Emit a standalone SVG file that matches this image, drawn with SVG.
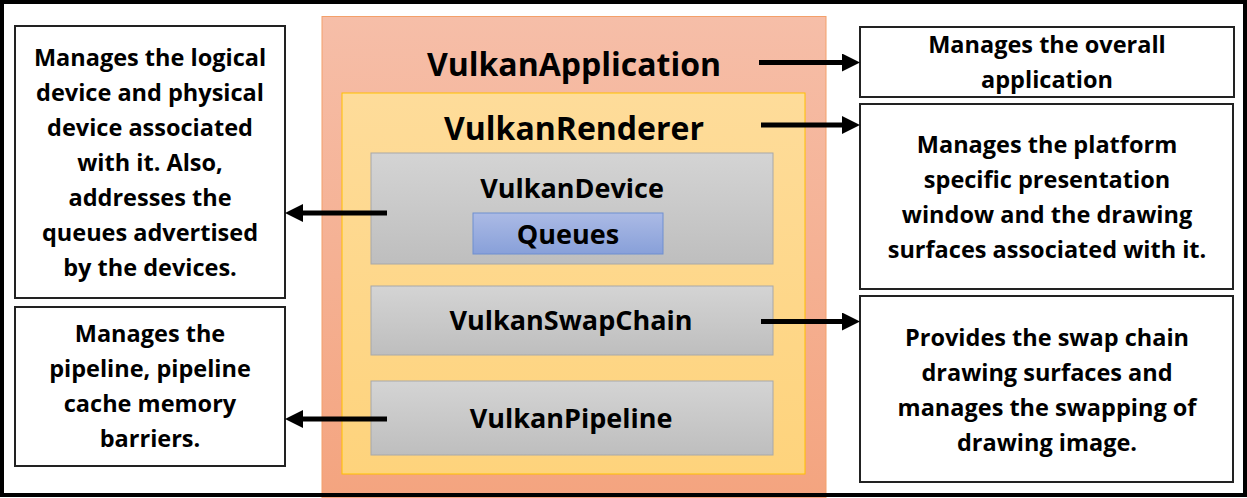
<svg xmlns="http://www.w3.org/2000/svg" width="1247" height="498" viewBox="0 0 1247 498">
<defs>
<linearGradient id="gOrange" x1="0" y1="0" x2="0" y2="1"><stop offset="0" stop-color="#f6bea8"/><stop offset="1" stop-color="#f4a47f"/></linearGradient>
<linearGradient id="gYellow" x1="0" y1="0" x2="0" y2="1"><stop offset="0" stop-color="#fedc9a"/><stop offset="1" stop-color="#fed37c"/></linearGradient>
<linearGradient id="gGray" x1="0" y1="0" x2="0" y2="1"><stop offset="0" stop-color="#d4d4d4"/><stop offset="1" stop-color="#bebebe"/></linearGradient>
<linearGradient id="gBlue" x1="0" y1="0" x2="0" y2="1"><stop offset="0" stop-color="#abbae5"/><stop offset="1" stop-color="#88a0d9"/></linearGradient>
<marker id="ah" markerUnits="userSpaceOnUse" markerWidth="18" markerHeight="18" refX="4" refY="9" orient="auto"><path d="M0,0 L18,9 L0,18 z" fill="#000"/></marker>
<style>
text{font-family:"Open Sans","Liberation Sans",sans-serif;font-weight:bold;fill:#000;text-anchor:middle}
.desc{font-size:23.5px}
.big{font-size:32px}
.mid{font-size:27px}
.box{fill:#fff;stroke:#222;stroke-width:2}
.gray{fill:url(#gGray);stroke:#a8a8a8;stroke-width:1}
.conn{stroke:#000;stroke-width:5;fill:none;marker-end:url(#ah)}
</style>
</defs>
<rect x="0" y="0" width="1247" height="498" fill="#fff"/>

<g id="vulkanApplication">
<rect x="322" y="16.5" width="504" height="482" fill="url(#gOrange)" stroke="#f3a06a" stroke-width="1"/>
<text class="big" x="574" y="76">VulkanApplication</text>
</g>
<g id="vulkanRenderer">
<rect x="342" y="93" width="463" height="381" fill="url(#gYellow)" stroke="#ffc000" stroke-width="1"/>
<text class="big" x="574" y="140">VulkanRenderer</text>
</g>
<g id="vulkanDevice">
<rect class="gray" x="371" y="153" width="402" height="111"/>
<text class="mid" x="572" y="198">VulkanDevice</text>
</g>
<g id="queues">
<rect x="473" y="213" width="190" height="41" fill="url(#gBlue)" stroke="#6f8fd0" stroke-width="1"/>
<text class="mid" x="568" y="244">Queues</text>
</g>
<g id="vulkanSwapChain">
<rect class="gray" x="371" y="286" width="402" height="69"/>
<text class="mid" x="571" y="330">VulkanSwapChain</text>
</g>
<g id="vulkanPipeline">
<rect class="gray" x="371" y="381" width="402" height="74"/>
<text class="mid" x="571" y="428">VulkanPipeline</text>
</g>

<g id="descDevice">
<rect class="box" x="15" y="26" width="270" height="272"/>
<text class="desc" x="150" y="66">Manages the logical</text>
<text class="desc" x="150" y="101">device and physical</text>
<text class="desc" x="150" y="136">device associated</text>
<text class="desc" x="150" y="171">with it. Also,</text>
<text class="desc" x="150" y="206">addresses the</text>
<text class="desc" x="150" y="241">queues advertised</text>
<text class="desc" x="150" y="276">by the devices.</text>
</g>
<g id="descPipeline">
<rect class="box" x="15" y="307" width="270" height="159"/>
<text class="desc" x="150" y="342">Manages the</text>
<text class="desc" x="150" y="377">pipeline, pipeline</text>
<text class="desc" x="150" y="412">cache memory</text>
<text class="desc" x="150" y="447">barriers.</text>
</g>
<g id="descApplication">
<rect class="box" x="860" y="27" width="374" height="70"/>
<text class="desc" x="1047" y="53">Manages the overall</text>
<text class="desc" x="1047" y="88">application</text>
</g>
<g id="descRenderer">
<rect class="box" x="860" y="104" width="373" height="185"/>
<text class="desc" x="1047" y="153">Manages the platform</text>
<text class="desc" x="1047" y="188">specific presentation</text>
<text class="desc" x="1047" y="223">window and the drawing</text>
<text class="desc" x="1047" y="258">surfaces associated with it.</text>
</g>
<g id="descSwapChain">
<rect class="box" x="860" y="296" width="373" height="186"/>
<text class="desc" x="1047" y="346">Provides the swap chain</text>
<text class="desc" x="1047" y="381">drawing surfaces and</text>
<text class="desc" x="1047" y="416">manages the swapping of</text>
<text class="desc" x="1047" y="451">drawing image.</text>
</g>

<g id="connectors">
<line class="conn" x1="759" y1="62.5" x2="846" y2="62.5"/>
<line class="conn" x1="761" y1="125" x2="846" y2="125"/>
<line class="conn" x1="761" y1="321.5" x2="846" y2="321.5"/>
<line class="conn" x1="387" y1="213" x2="299" y2="213"/>
<line class="conn" x1="387" y1="419" x2="299" y2="419"/>
</g>

<rect id="frame" x="2" y="2" width="1243" height="493" fill="none" stroke="#000" stroke-width="4"/>
</svg>
